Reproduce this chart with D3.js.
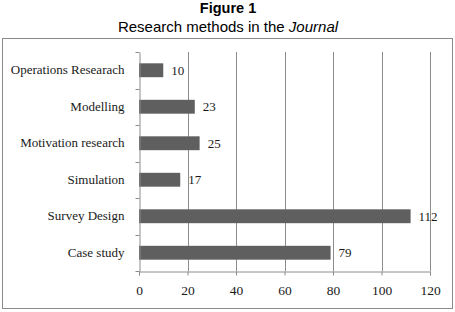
<!DOCTYPE html>
<html>
<head>
<meta charset="utf-8">
<script src="https://cdn.jsdelivr.net/npm/d3@7"></script>
<style>
  body { margin: 0; background: #fff; }
  svg { display: block; }
</style>
</head>
<body>
<div id="chart"></div>
<script>
var categories = ["Operations Researach", "Modelling", "Motivation research", "Simulation", "Survey Design", "Case study"];
var counts = [10, 23, 25, 17, 112, 79];
var xTicks = [0, 20, 40, 60, 80, 100, 120];

var width = 455, height = 312;
var plotLeft = 139, plotRight = 430, plotTop = 52, plotBottom = 271;

var svg = d3.select("#chart").append("svg")
    .attr("width", width)
    .attr("height", height);

// titles
svg.append("text")
    .attr("x", 228).attr("y", 13)
    .attr("text-anchor", "middle")
    .style("font-family", "Liberation Sans, Arial, sans-serif")
    .style("font-weight", "bold")
    .style("font-size", "14.5px")
    .text("Figure 1");

var sub = svg.append("text")
    .attr("x", 228).attr("y", 32)
    .attr("text-anchor", "middle")
    .style("font-family", "Liberation Sans, Arial, sans-serif")
    .style("font-size", "15px");
sub.append("tspan").text("Research methods in the ");
sub.append("tspan").style("font-style", "italic").text("Journal");

// chart border
svg.append("rect")
    .attr("x", 2.5).attr("y", 38.5)
    .attr("width", 450).attr("height", 270)
    .attr("fill", "none")
    .attr("stroke", "#8a8a8a");

var x = d3.scaleLinear().domain([0, 120]).range([plotLeft, plotRight]);
var y = d3.scaleBand().domain(categories).range([plotTop, plotBottom])
    .paddingInner(0.62).paddingOuter(0.31);
var yBand = d3.scaleBand().domain(categories).range([plotTop, plotBottom]);

// gridlines
svg.append("g").selectAll("line")
    .data(xTicks.slice(1))
    .join("line")
    .attr("x1", d => Math.round(x(d)) + 0.5)
    .attr("x2", d => Math.round(x(d)) + 0.5)
    .attr("y1", plotTop).attr("y2", plotBottom)
    .attr("stroke", "#8c8c8c");

// bars
svg.append("g").selectAll("rect")
    .data(counts)
    .join("rect")
    .attr("x", x(0))
    .attr("y", (d, i) => y(categories[i]))
    .attr("height", y.bandwidth())
    .attr("width", d => x(d) - x(0))
    .attr("fill", "#5f5f5f");

// value labels
svg.append("g").selectAll("text")
    .data(counts)
    .join("text")
    .attr("x", d => x(d) + 8)
    .attr("y", (d, i) => y(categories[i]) + y.bandwidth() / 2)
    .attr("dy", "0.35em")
    .style("font-family", "Liberation Serif, Times New Roman, serif")
    .style("font-size", "13px")
    .attr("fill", "#1a1a1a")
    .text(d => d);

// x axis
var xAxis = svg.append("g")
    .attr("transform", "translate(0," + (plotBottom + 0.5) + ")")
    .call(d3.axisBottom(x).tickValues(xTicks).tickSize(4).tickPadding(10));
xAxis.select(".domain").attr("stroke", "#8c8c8c");
xAxis.selectAll(".tick line").attr("stroke", "#8c8c8c");
xAxis.selectAll("text")
    .style("font-family", "Liberation Serif, Times New Roman, serif")
    .style("font-size", "13.5px")
    .attr("fill", "#1a1a1a");

// y axis with ticks at band boundaries
var yAxis = svg.append("g")
    .attr("transform", "translate(" + (plotLeft + 0.5) + ",0)")
    .call(d3.axisLeft(yBand).tickSize(0).tickPadding(15));
yAxis.select(".domain").attr("stroke", "#8c8c8c");
yAxis.selectAll("text")
    .style("font-family", "Liberation Serif, Times New Roman, serif")
    .style("font-size", "13px")
    .attr("fill", "#1a1a1a");
yAxis.append("g").selectAll("line")
    .data(categories.concat([null]))
    .join("line")
    .attr("x1", -4).attr("x2", 0)
    .attr("y1", (d, i) => Math.round(plotTop + i * yBand.step()) + 0.5)
    .attr("y2", (d, i) => Math.round(plotTop + i * yBand.step()) + 0.5)
    .attr("stroke", "#8c8c8c");
</script>
</body>
</html>
